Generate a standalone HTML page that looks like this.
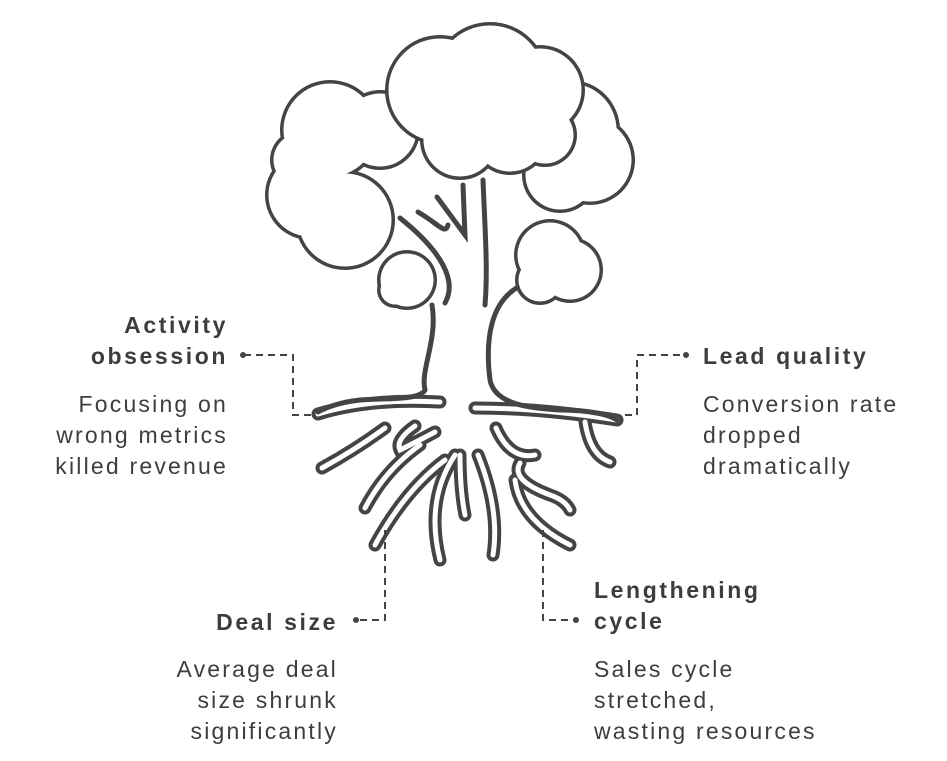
<!DOCTYPE html>
<html><head><meta charset="utf-8"><style>
html,body{margin:0;padding:0;background:#fff;}
body{width:947px;height:761px;position:relative;overflow:hidden;font-family:"Liberation Sans",sans-serif;color:#3d3d3d;}
.t{position:absolute;font-size:23px;line-height:31px;white-space:nowrap;letter-spacing:2.2px;}
.b{font-weight:bold;letter-spacing:2.6px;}
.r{text-align:right;}
</style></head><body>
<svg width="947" height="761" style="position:absolute;left:0;top:0">
<g stroke-linecap="round" fill="none">
<g stroke="#444" stroke-width="13">
<path d="M440 402 Q370 398 318 414"/>
<path d="M475 408 Q540 408 617 420"/>
<path d="M385 428 Q355 450 322 468"/>
<path d="M585 422 Q590 455 610 462"/>
<path d="M415 426 Q395 440 400 450 Q420 440 435 432"/>
<path d="M420 445 Q385 470 365 508"/>
<path d="M445 460 Q405 490 375 545"/>
<path d="M455 455 Q425 500 440 560"/>
<path d="M460 455 Q460 490 465 515"/>
<path d="M478 455 Q500 510 493 555"/>
<path d="M496 428 Q510 460 535 455"/>
<path d="M520 463 Q510 480 550 495 Q565 500 570 510"/>
<path d="M515 480 Q520 520 570 545"/>
</g>
<g stroke="#fff" stroke-width="5">
<path d="M440 402 Q370 398 318 414"/>
<path d="M475 408 Q540 408 617 420"/>
<path d="M385 428 Q355 450 322 468"/>
<path d="M585 422 Q590 455 610 462"/>
<path d="M415 426 Q395 440 400 450 Q420 440 435 432"/>
<path d="M420 445 Q385 470 365 508"/>
<path d="M445 460 Q405 490 375 545"/>
<path d="M455 455 Q425 500 440 560"/>
<path d="M460 455 Q460 490 465 515"/>
<path d="M478 455 Q500 510 493 555"/>
<path d="M496 428 Q510 460 535 455"/>
<path d="M520 463 Q510 480 550 495 Q565 500 570 510"/>
<path d="M515 480 Q520 520 570 545"/>
</g>
<g stroke="#444" stroke-width="5">
<path d="M400 218 C440 250 458 280 445 303"/>
<path d="M418 212 C440 225 445 235 448 225"/>
<path d="M437 197 L465 235 L463 185"/>
<path d="M432 305 C438 340 420 370 425 390 C420 400 390 398 360 400 C340 402 325 408 318 412"/>
<path d="M483 180 C485 230 488 270 485 305"/>
<path d="M522 285 C490 300 485 340 490 380 C495 405 530 408 560 410 C590 410 610 415 617 420"/>
</g>
</g>
<g fill="#444">
<circle cx="330" cy="130" r="50"/><circle cx="310" cy="195" r="45"/><circle cx="345" cy="220" r="50"/><circle cx="380" cy="130" r="40"/><circle cx="300" cy="160" r="30"/>
<circle cx="570" cy="130" r="50"/><circle cx="590" cy="160" r="45"/><circle cx="560" cy="175" r="38"/>
</g>
<g fill="#fff">
<circle cx="330" cy="130" r="46.5"/><circle cx="310" cy="195" r="41.5"/><circle cx="345" cy="220" r="46.5"/><circle cx="380" cy="130" r="36.5"/><circle cx="300" cy="160" r="26.5"/>
<circle cx="570" cy="130" r="46.5"/><circle cx="590" cy="160" r="41.5"/><circle cx="560" cy="175" r="34.5"/>
</g>
<g fill="#444">
<circle cx="440" cy="90" r="55"/><circle cx="490" cy="80" r="58"/><circle cx="540" cy="90" r="45"/><circle cx="460" cy="140" r="40"/><circle cx="510" cy="135" r="40"/><circle cx="545" cy="135" r="32"/>
</g>
<g fill="#fff">
<circle cx="440" cy="90" r="51.5"/><circle cx="490" cy="80" r="54.5"/><circle cx="540" cy="90" r="41.5"/><circle cx="460" cy="140" r="36.5"/><circle cx="510" cy="135" r="36.5"/><circle cx="545" cy="135" r="28.5"/>
</g>
<g fill="#444">
<circle cx="407" cy="280" r="30"/><circle cx="395" cy="290" r="18"/>
<circle cx="550" cy="255" r="36"/><circle cx="570" cy="270" r="33"/><circle cx="540" cy="280" r="25"/>
</g>
<g fill="#fff">
<circle cx="407" cy="280" r="26.5"/><circle cx="395" cy="290" r="14.5"/>
<circle cx="550" cy="255" r="32.5"/><circle cx="570" cy="270" r="29.5"/><circle cx="540" cy="280" r="21.5"/>
</g>
<g stroke="#444" stroke-width="2" fill="none" stroke-dasharray="7 5">
<path d="M244 355 H293 V415 H315"/>
<path d="M625 415 H637 V355 H684"/>
<path d="M385 530 V620 H358"/>
<path d="M543 530 V620 H574"/>
</g>
<g fill="#444">
<circle cx="243" cy="355" r="3"/><circle cx="686" cy="355" r="3"/><circle cx="356" cy="620" r="3"/><circle cx="576" cy="620" r="3"/>
</g>
</svg>
<div class="t b r" style="right:719px;top:310px">Activity<br>obsession</div>
<div class="t r" style="right:719px;top:389px">Focusing on<br>wrong metrics<br>killed revenue</div>
<div class="t b" style="left:703px;top:341px">Lead quality</div>
<div class="t" style="left:703px;top:389px">Conversion rate<br>dropped<br>dramatically</div>
<div class="t b r" style="right:609px;top:607px">Deal size</div>
<div class="t r" style="right:609px;top:654px">Average deal<br>size shrunk<br>significantly</div>
<div class="t b" style="left:594px;top:575px">Lengthening<br>cycle</div>
<div class="t" style="left:594px;top:654px">Sales cycle<br>stretched,<br>wasting resources</div>
</body></html>
